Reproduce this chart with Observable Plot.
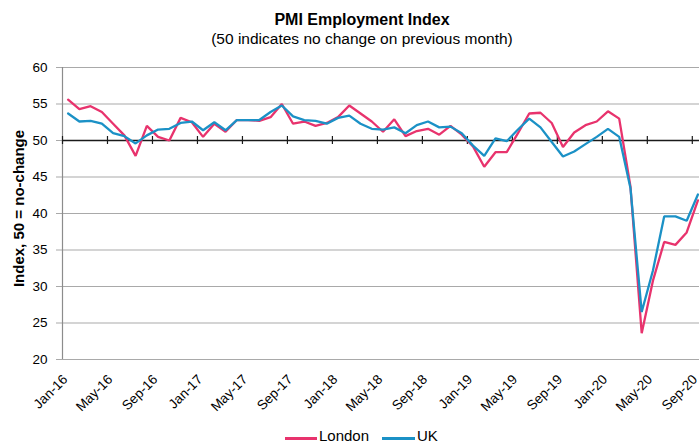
<!DOCTYPE html>
<html>
<head>
<meta charset="utf-8">
<script src="https://cdn.jsdelivr.net/npm/d3@7"></script>
<script src="https://cdn.jsdelivr.net/npm/@observablehq/plot@0.6"></script>
<style>
  html, body { margin: 0; padding: 0; background: #fff; }
  body { width: 699px; height: 444px; position: relative; overflow: hidden; font-family: "Liberation Sans", Arial, sans-serif; color: #000; }
  .abs { position: absolute; white-space: nowrap; }
  #title { left: 0; width: 724px; text-align: center; top: 11.5px; font-size: 16px; line-height: 16px; font-weight: bold; }
  #subtitle { left: 0; width: 724px; text-align: center; top: 30.9px; font-size: 15.5px; line-height: 15.5px; }
  #chart { left: 0; top: 50px; }
  .legline { height: 2.5px; top: 437px; }
  .legtext { top: 429px; font-size: 15px; line-height: 14px; }
</style>
</head>
<body>
<div id="title" class="abs">PMI Employment Index</div>
<div id="subtitle" class="abs">(50 indicates no change on previous month)</div>
<div id="chart" class="abs"></div>
<div class="abs legline" id="legL" style="left:285px;width:32px;"></div>
<div class="abs legtext" style="left:319px;">London</div>
<div class="abs legline" id="legU" style="left:382px;width:33px;"></div>
<div class="abs legtext" style="left:417px;">UK</div>
<script>
const months = [
  "Jan-16","Feb-16","Mar-16","Apr-16","May-16","Jun-16","Jul-16","Aug-16","Sep-16","Oct-16","Nov-16","Dec-16",
  "Jan-17","Feb-17","Mar-17","Apr-17","May-17","Jun-17","Jul-17","Aug-17","Sep-17","Oct-17","Nov-17","Dec-17",
  "Jan-18","Feb-18","Mar-18","Apr-18","May-18","Jun-18","Jul-18","Aug-18","Sep-18","Oct-18","Nov-18","Dec-18",
  "Jan-19","Feb-19","Mar-19","Apr-19","May-19","Jun-19","Jul-19","Aug-19","Sep-19","Oct-19","Nov-19","Dec-19",
  "Jan-20","Feb-20","Mar-20","Apr-20","May-20","Jun-20","Jul-20","Aug-20","Sep-20"
];
const london = [
  55.6,54.3,54.7,53.9,52.3,50.7,47.9,52.0,50.5,50.0,53.1,52.5,
  50.5,52.3,51.2,52.8,52.8,52.7,53.2,55.0,52.3,52.6,52.0,52.4,
  53.2,54.8,53.7,52.6,51.2,52.9,50.6,51.3,51.6,50.8,52.0,50.8,
  49.2,46.4,48.4,48.4,51.0,53.7,53.8,52.4,49.1,51.1,52.1,52.6,
  54.0,53.0,43.7,23.6,30.8,36.1,35.7,37.4,41.8
];
const uk = [
  53.7,52.6,52.7,52.3,51.0,50.6,49.6,50.7,51.5,51.6,52.4,52.6,
  51.4,52.5,51.4,52.8,52.8,52.8,53.9,54.8,53.3,52.8,52.7,52.3,
  53.1,53.4,52.3,51.6,51.5,51.8,51.0,52.1,52.6,51.8,51.9,51.0,
  49.3,47.9,50.3,49.9,51.5,53.0,51.8,49.8,47.8,48.5,49.5,50.5,
  51.6,50.5,43.5,26.5,32.2,39.6,39.6,39.0,42.6
];
const seriesNames = ["London", "UK"];
const seriesColors = ["#e8336d", "#1b91c6"];
const yTicks = [20, 25, 30, 35, 40, 45, 50, 55, 60];
const tickLabels = ["Jan-16","May-16","Sep-16","Jan-17","May-17","Sep-17","Jan-18","May-18","Sep-18","Jan-19","May-19","Sep-19","Jan-20","May-20","Sep-20"];
const yTitle = "Index, 50 = no-change";

document.getElementById("legL").style.background = seriesColors[0];
document.getElementById("legU").style.background = seriesColors[1];

const rows = [];
[london, uk].forEach((arr, s) => arr.forEach((v, i) => rows.push({series: seriesNames[s], i, month: months[i], v})));
const tickRows = tickLabels.map(l => ({label: l, i: months.indexOf(l)}));

const chart = Plot.plot({
  width: 699,
  height: 380,
  marginTop: 17,
  marginBottom: 71,
  marginLeft: 62,
  marginRight: 0,
  style: {fontFamily: "Liberation Sans, Arial, sans-serif", fontSize: "13.5px", background: "transparent", overflow: "visible"},
  x: {type: "linear", domain: [-0.5, 56.14], axis: null},
  y: {domain: [20, 60], ticks: yTicks},
  color: {domain: seriesNames, range: seriesColors},
  marks: [
    Plot.ruleY(yTicks, {stroke: "#a9a9a9", strokeWidth: 1.2, insetLeft: -6}),
    Plot.ruleX([-0.5], {stroke: "#8c8c8c", strokeWidth: 1.2}),
    Plot.axisY({ticks: yTicks, tickSize: 0, tickPadding: 15, label: null}),
    Plot.ruleY([50], {stroke: "#1a1a1a", strokeWidth: 1.3}),
    Plot.ruleX(tickRows, {x: d => d.i - 0.5, y1: 50, y2: 50, insetTop: -4, insetBottom: -4, stroke: "#1a1a1a", strokeWidth: 1.2}),
    Plot.line(rows.filter(d => d.series === "London"), {x: "i", y: "v", stroke: "series", strokeWidth: 2.3, strokeLinejoin: "miter"}),
    Plot.line(rows.filter(d => d.series === "UK"), {x: "i", y: "v", stroke: "series", strokeWidth: 2.3, strokeLinejoin: "miter"}),
    Plot.text(tickRows, {x: d => d.i - 0.5, frameAnchor: "bottom", text: "label", rotate: -45, textAnchor: "end", lineAnchor: "top", dx: -1, dy: 14, fontSize: 13.5, fill: "#000"}),
    Plot.text([yTitle], {frameAnchor: "left", rotate: -90, textAnchor: "middle", lineAnchor: "middle", dx: -43, dy: -5, fontSize: 15, fontWeight: "bold", fill: "#000"})
  ]
});
document.getElementById("chart").appendChild(chart);
</script>
</body>
</html>
